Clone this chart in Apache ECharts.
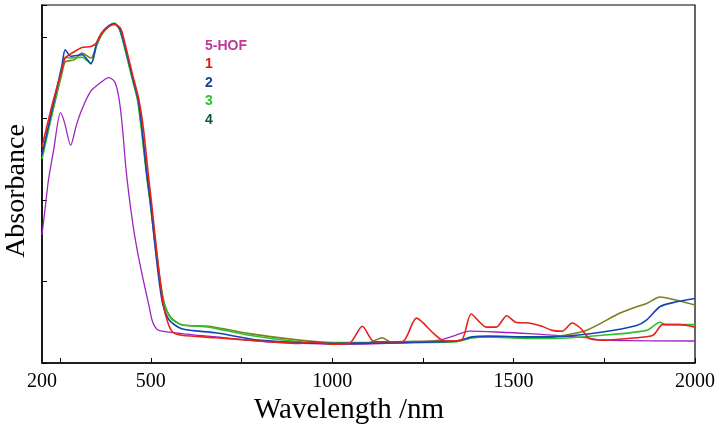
<!DOCTYPE html>
<html>
<head>
<meta charset="utf-8">
<script src="https://cdn.jsdelivr.net/npm/echarts@6/dist/echarts.min.js"></script>
<style>html,body{margin:0;padding:0;background:#fff}#c{width:719px;height:430px}</style>
</head>
<body>
<div id="c"></div>
<script>
// Data (wavelength nm, absorbance arbitrary units)
var xTickValues = [250, 500, 750, 1000, 1250, 1500, 1750, 2000];
var xLabelValues = [200, 500, 1000, 1500, 2000];
var seriesNames = ['5-HOF', '1', '2', '3', '4'];

var hof = [[200,1.57],[210,1.95],[218,2.25],[232,2.61],[251,3.07],[262,2.95],[279,2.67],[295,2.92],[309,3.10],[334,3.33],[362,3.44],[384,3.50],[400,3.45],[410,3.30],[418,3.05],[425,2.72],[431,2.40],[440,2.05],[453,1.63],[466,1.30],[481,0.98],[495,0.70],[503,0.53],[512,0.44],[522,0.40],[585,0.36],[700,0.31],[818,0.26],[1047,0.23],[1200,0.25],[1295,0.28],[1340,0.34],[1378,0.39],[1452,0.38],[1542,0.36],[1700,0.31],[1745,0.28],[2000,0.27]];

var s1 = [[200,2.65],[230,3.20],[255,3.60],[264,3.74],[290,3.82],[310,3.87],[335,3.88],[351,3.93],[365,4.05],[385,4.13],[402,4.15],[417,4.10],[433,3.84],[450,3.53],[467,3.23],[480,2.86],[493,2.31],[501,2.00],[510,1.63],[518,1.30],[526,1.00],[535,0.70],[548,0.48],[560,0.38],[585,0.34],[680,0.31],[800,0.27],[910,0.24],[945,0.26],[1000,0.23],[1047,0.24],[1083,0.45],[1116,0.26],[1193,0.26],[1232,0.55],[1280,0.36],[1309,0.27],[1356,0.28],[1383,0.60],[1425,0.44],[1452,0.44],[1481,0.58],[1506,0.50],[1542,0.49],[1578,0.45],[1606,0.40],[1634,0.39],[1661,0.49],[1686,0.42],[1709,0.30],[1745,0.28],[1839,0.31],[1884,0.34],[1911,0.47],[1958,0.47],[2000,0.44]];

var s2 = [[200,2.55],[230,3.15],[255,3.65],[264,3.84],[280,3.76],[310,3.78],[335,3.67],[351,3.93],[365,4.05],[385,4.14],[400,4.16],[415,4.09],[431,3.84],[448,3.53],[465,3.23],[476,2.86],[489,2.31],[498,2.00],[507,1.63],[515,1.30],[523,1.00],[533,0.72],[550,0.53],[585,0.42],[679,0.37],[798,0.28],[910,0.25],[1000,0.24],[1200,0.25],[1342,0.27],[1386,0.32],[1430,0.33],[1542,0.32],[1606,0.32],[1745,0.38],[1839,0.46],[1867,0.53],[1903,0.69],[1939,0.74],[2000,0.79]];

var s3 = [[200,2.50],[230,3.10],[255,3.60],[264,3.75],[280,3.74],[310,3.75],[335,3.67],[351,3.90],[365,4.03],[385,4.13],[398,4.17],[413,4.10],[429,3.84],[446,3.53],[463,3.23],[474,2.86],[488,2.31],[497,2.00],[507,1.63],[516,1.30],[525,1.00],[537,0.72],[555,0.55],[585,0.47],[660,0.44],[771,0.34],[909,0.26],[1000,0.24],[1200,0.25],[1342,0.26],[1386,0.31],[1430,0.32],[1542,0.30],[1606,0.30],[1745,0.34],[1867,0.40],[1903,0.50],[1922,0.47],[2000,0.47]];

var s4 = [[200,2.55],[230,3.10],[255,3.55],[264,3.69],[290,3.72],[310,3.80],[335,3.74],[351,3.90],[365,4.03],[385,4.13],[398,4.16],[413,4.10],[430,3.84],[447,3.53],[464,3.23],[475,2.86],[489,2.31],[498,2.00],[508,1.63],[517,1.30],[526,1.00],[538,0.72],[555,0.56],[585,0.47],[660,0.45],[771,0.36],[909,0.28],[1000,0.25],[1100,0.25],[1138,0.31],[1160,0.26],[1300,0.27],[1342,0.27],[1386,0.31],[1430,0.32],[1542,0.31],[1606,0.32],[1700,0.40],[1792,0.61],[1839,0.69],[1867,0.73],[1903,0.81],[1958,0.76],[2000,0.71]];

var lineColors = ['#a024c0', '#e8201c', '#1444b4', '#2cc42c', '#7e7c20'];
var legendColors = ['#c0389c', '#e01818', '#1840a0', '#30c030', '#0a5a3c'];
var dataSets = [hof, s1, s2, s3, s4];

var chart = echarts.init(document.getElementById('c'), null, {renderer: 'canvas'});
var series = dataSets.map(function (d, i) {
  return {
    name: seriesNames[i], type: 'line', data: d, showSymbol: false, smooth: 0.25,
    lineStyle: {color: lineColors[i], width: i === 0 ? 1.3 : 1.6},
    itemStyle: {color: lineColors[i]}, z: i === 0 ? 2 : 3 + (4 - i)
  };
});

chart.setOption({
  animation: false,
  backgroundColor: '#fff',
  grid: {left: 42, right: 24, top: 5, bottom: 67, outerBoundsMode: 'none', show: true, borderColor: '#000', borderWidth: 1.2, backgroundColor: 'transparent'},
  legend: {
    orient: 'vertical', left: 195, top: 34, itemWidth: 0, itemHeight: 14, itemGap: 4.5, icon: 'none',
    selectedMode: false,
    textStyle: {fontFamily: 'Liberation Sans, Arial', fontWeight: 'bold', fontSize: 14},
    data: seriesNames.map(function (n, i) { return {name: n, textStyle: {color: legendColors[i]}}; })
  },
  xAxis: {
    type: 'value', min: 200, max: 2000,
    axisLine: {lineStyle: {color: '#000', width: 1.5}},
    axisTick: {inside: true, length: 5, customValues: xTickValues, lineStyle: {color: '#000', width: 1}},
    axisLabel: {customValues: xLabelValues, formatter: function (v) { return String(v); }, color: '#000', fontFamily: 'Liberation Serif, Times New Roman', fontSize: 20, margin: 9},
    splitLine: {show: false}
  },
  yAxis: {
    type: 'value', min: 0, max: 4.39, interval: 1,
    axisLine: {lineStyle: {color: '#000', width: 1.5}},
    axisTick: {inside: true, length: 5, lineStyle: {color: '#000', width: 1}},
    axisLabel: {show: false},
    splitLine: {show: false}
  },
  graphic: [{
    type: 'text', left: 254, top: 396,
    style: {text: 'Wavelength /nm', fill: '#000', font: '29px "Liberation Serif", "Times New Roman", serif'}
  }, {
    type: 'text', x: 17, y: 191, rotation: Math.PI / 2,
    style: {text: 'Absorbance', fill: '#000', align: 'center', verticalAlign: 'middle', font: '28px "Liberation Serif", "Times New Roman", serif'}
  }],
  series: series
});
</script>
</body>
</html>
